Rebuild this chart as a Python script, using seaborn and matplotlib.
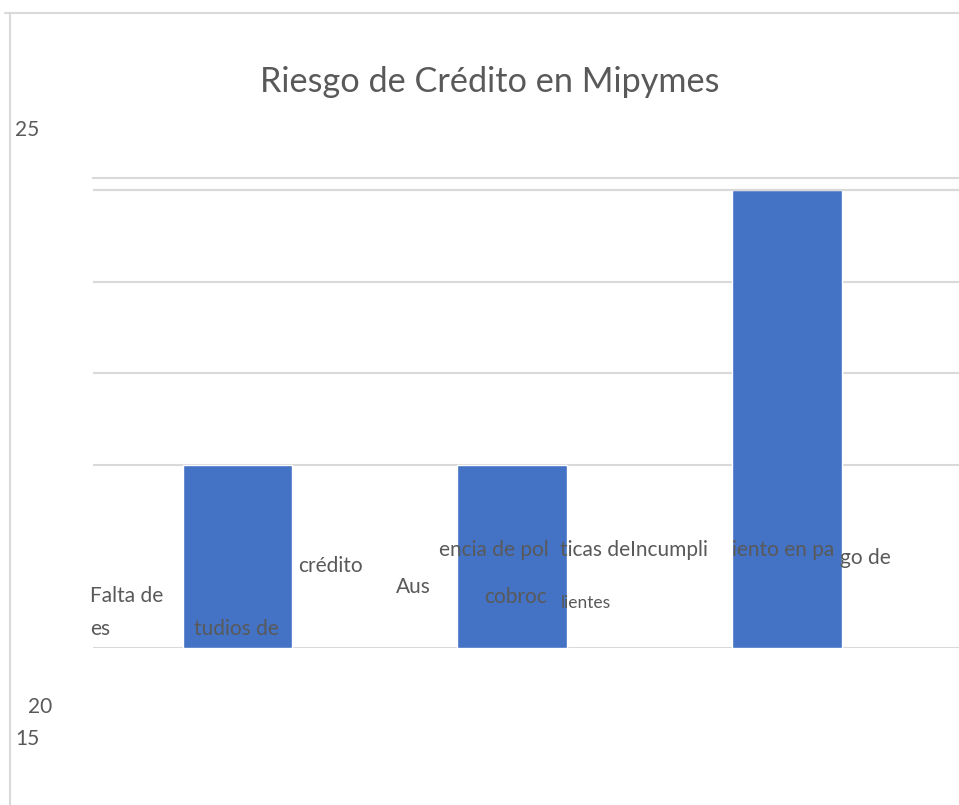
import matplotlib
matplotlib.use("Agg")
import matplotlib.pyplot as plt
import seaborn as sns
import pandas as pd

# ---- data ----
categories = ["Falta de estudios de crédito",
              "Ausencia de políticas de cobro clientes",
              "Incumplimiento en pago de"]
values = [10, 10, 25]
grid_values = [0, 10, 15, 20, 25]
title = "Riesgo de Crédito en Mipymes"
# garbled label fragments as they appear in the reference: (text, x_px, y_px, size)
fragments = [
    ("Falta de", 90, 596, 15),
    ("es", 90, 629, 15),
    ("tudios de", 194, 629, 15),
    ("crédito", 298, 566, 15),
    ("Aus", 396, 587, 15),
    ("encia de pol", 439, 550, 15),
    ("ticas deIncumpli", 560, 550, 15),
    ("cobroc", 484, 597, 15),
    ("lientes", 561, 603, 12.5),
    ("iento en pa", 732, 550, 15),
    ("go de", 840, 558, 15),
    ("25", 15, 130, 15),
    ("20", 28, 707, 15),
    ("15", 15, 739, 15),
]

W, H = 959, 805
sns.set_theme(style="white")
plt.rcParams["font.family"] = ["Lato", "DejaVu Sans"]

fig = plt.figure(figsize=(W / 100, H / 100), dpi=100)

def fx(x):
    return x / W

def fy(y):
    return 1 - y / H

# outer frame
fig.add_artist(plt.Line2D([fx(5), 1.0], [fy(13), fy(13)], color="#d9d9d9", lw=1.5))
fig.add_artist(plt.Line2D([fx(10), fx(10)], [fy(13), 0.0], color="#d9d9d9", lw=1.5))

ax_left, ax_right = 93, 959
ax_top, ax_bot = 178, 648
ax = fig.add_axes([fx(ax_left), fy(ax_bot), fx(ax_right) - fx(ax_left), (ax_bot - ax_top) / H])

df = pd.DataFrame({"cat": categories, "val": values})
sns.barplot(data=df, x="cat", y="val", order=categories, color="#4472c4",
            saturation=1, width=0.4, ax=ax, zorder=2)

ymax = 25 * (ax_bot - ax_top) / (ax_bot - 190)
ax.set_ylim(0, ymax)
# category 0 at ~237 px, spacing ~275 px
ppu = 274.75
x0 = -(237.5 - ax_left) / ppu
ax.set_xlim(x0, x0 + (ax_right - ax_left) / ppu)
for g in grid_values:
    ax.axhline(g, color="#d9d9d9", lw=1.5, zorder=1)
ax.axhline(grid_values[-1], color="#d9d9d9", lw=1.5, zorder=3)

for s in ["left", "right", "bottom"]:
    ax.spines[s].set_visible(False)
ax.spines["top"].set_color("#d9d9d9")
ax.spines["top"].set_linewidth(1.5)
ax.set_xticks([])
ax.set_yticks([])
ax.set_xlabel("")
ax.set_ylabel("")
ax.patch.set_alpha(0)

fig.text(fx(490), fy(82), title, ha="center", va="center", fontsize=24.7,
         color="#595959")

for txt, x, y, sz in fragments:
    fig.text(fx(x), fy(y), txt, ha="left", va="center", fontsize=sz, color="#595959")

fig.savefig("out.png", dpi=100)
